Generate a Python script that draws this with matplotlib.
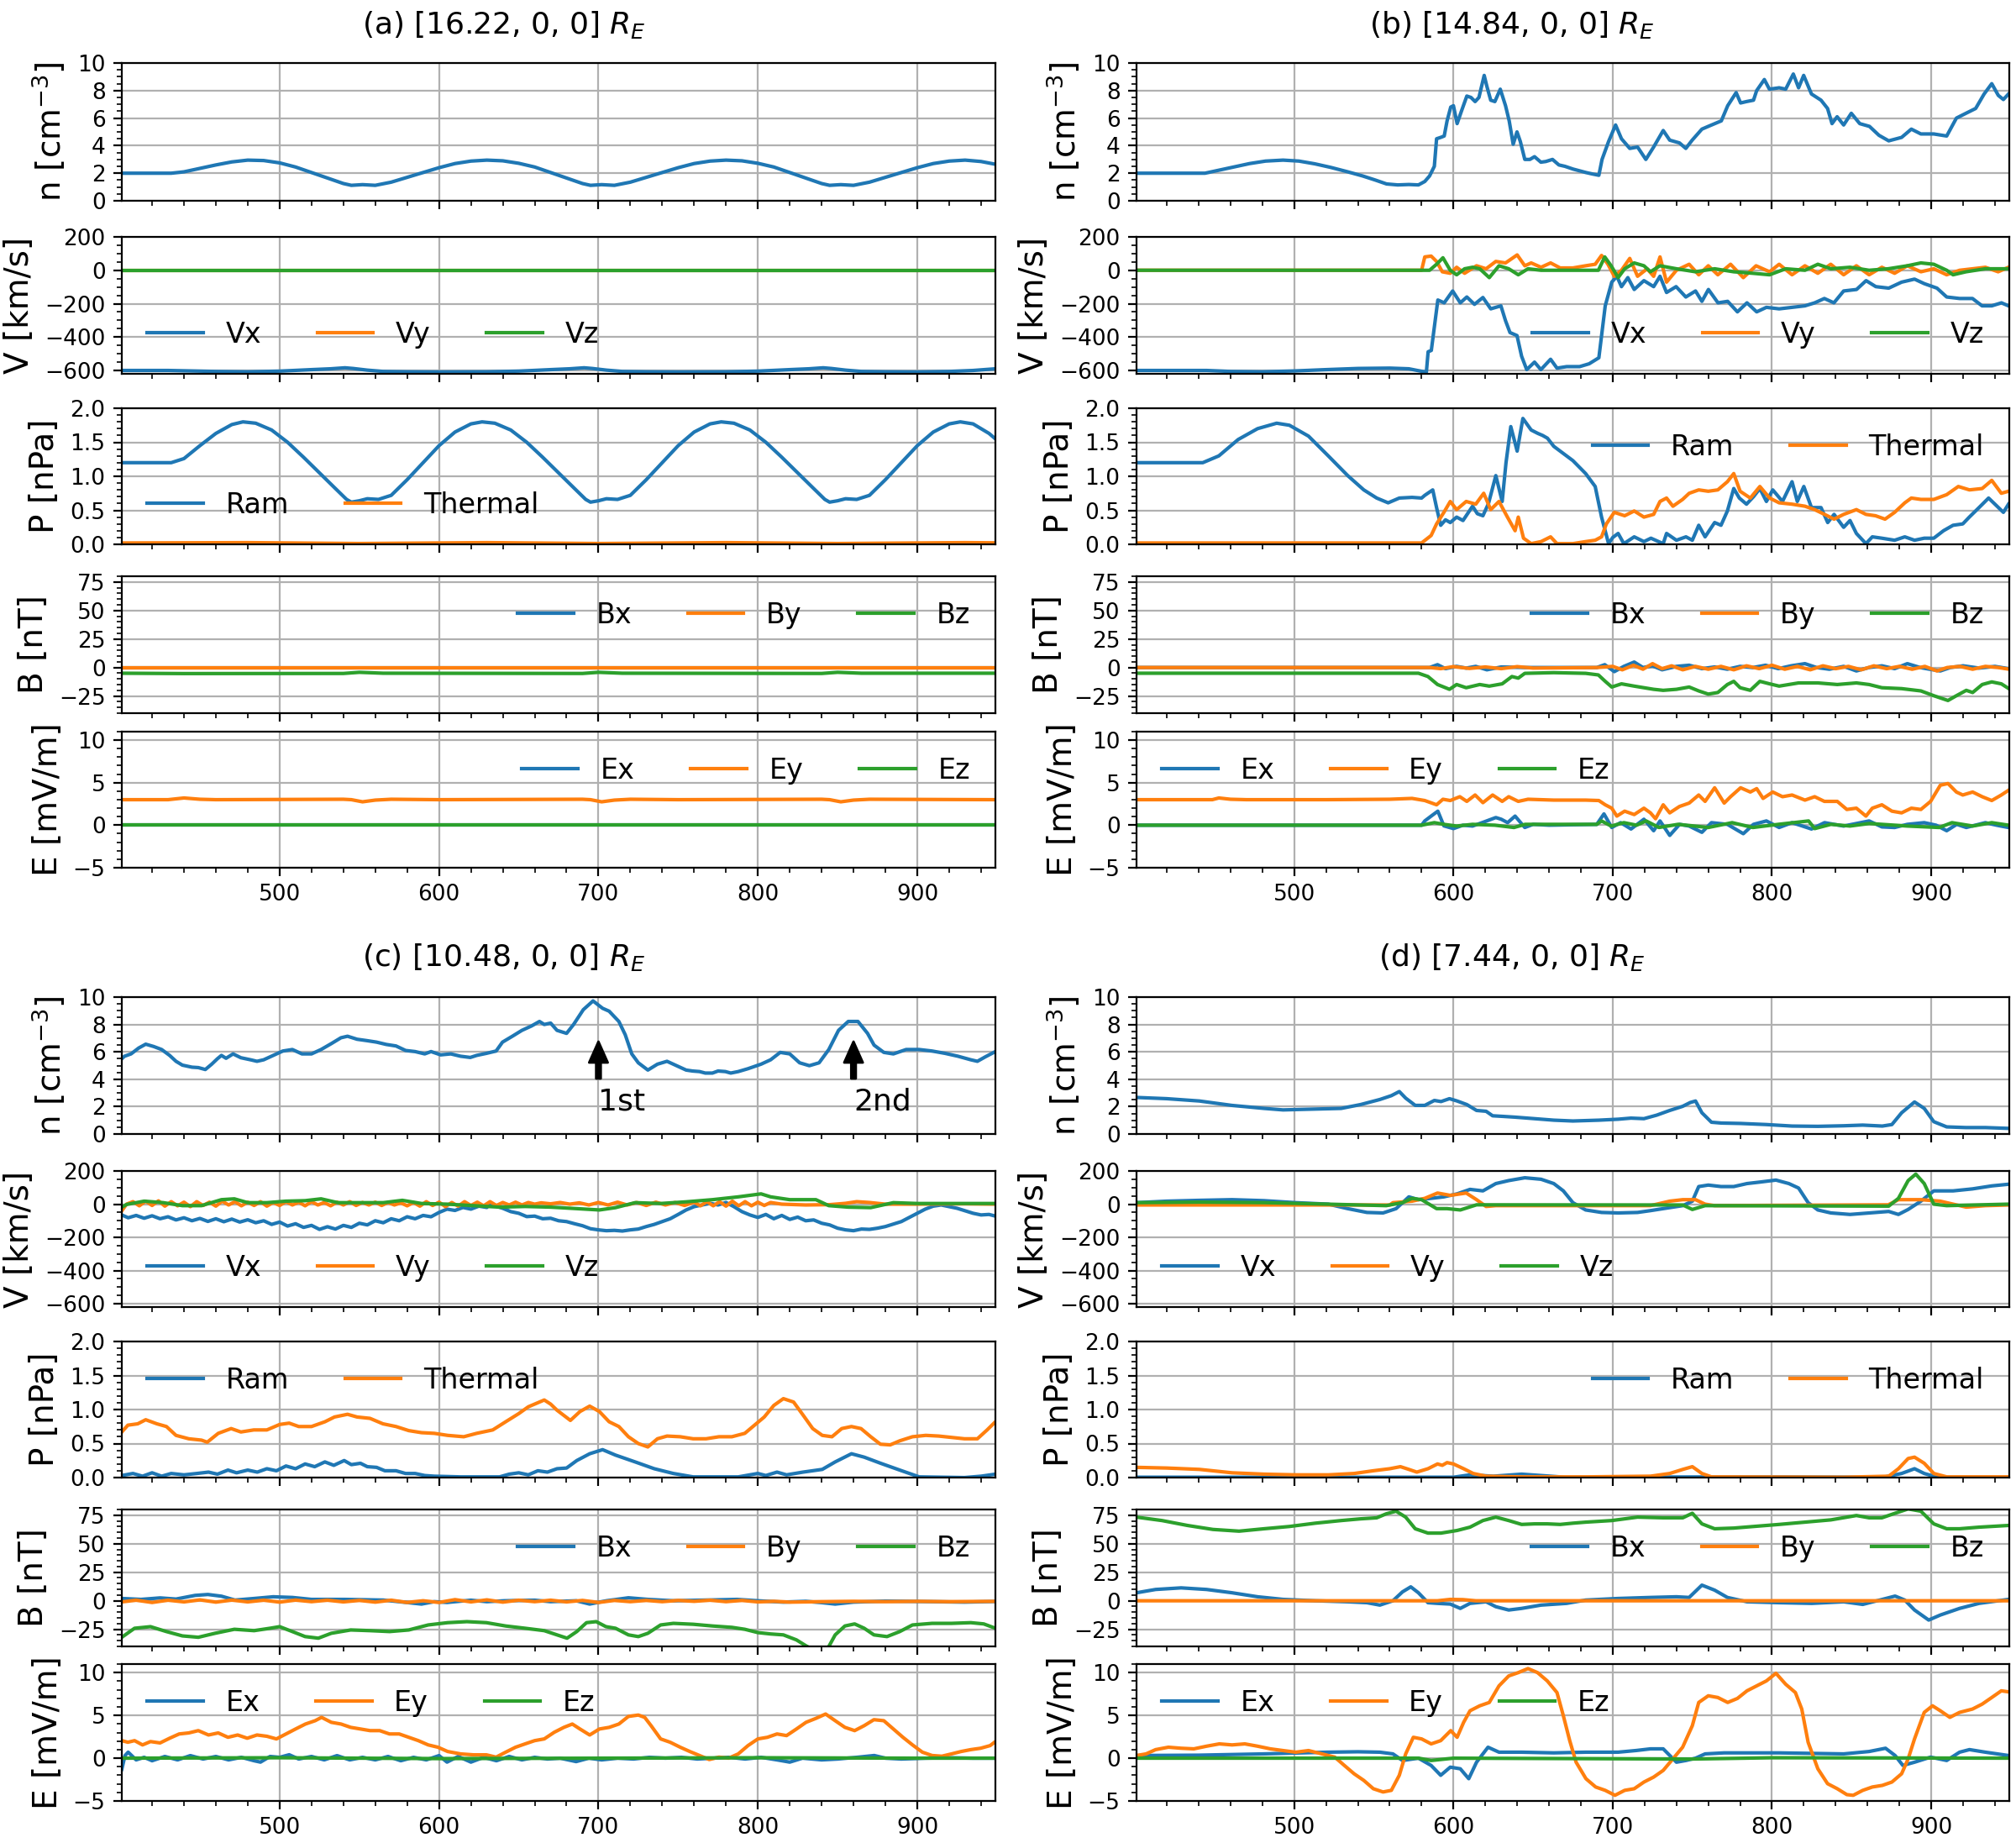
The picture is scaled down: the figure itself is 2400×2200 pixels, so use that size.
import matplotlib
matplotlib.use('Agg')
import matplotlib.pyplot as plt
from matplotlib.ticker import AutoMinorLocator

# ---------------- DATA ----------------
titles = ["(a) [16.22, 0, 0] $R_E$", "(b) [14.84, 0, 0] $R_E$",
          "(c) [10.48, 0, 0] $R_E$", "(d) [7.44, 0, 0] $R_E$"]
ylabels = ["n [cm$^{-3}$]", "V [km/s]", "P [nPa]", "B [nT]", "E [mV/m]"]
v_labels = ["Vx", "Vy", "Vz"]
p_labels = ["Ram", "Thermal"]
b_labels = ["Bx", "By", "Bz"]
e_labels = ["Ex", "Ey", "Ez"]
ylims = [(0, 10), (-620, 200), (0, 2), (-40, 80), (-5, 11)]
yticks = [[0, 2, 4, 6, 8, 10], [-600, -400, -200, 0, 200], [0.0, 0.5, 1.0, 1.5, 2.0],
          [-25, 0, 25, 50, 75], [-5, 0, 5, 10]]
xlim = (401, 949)
xticks = [500, 600, 700, 800, 900]
arrow_x = [700, 860]
arrow_text = ["1st", "2nd"]

# ---- panel (a) ----
a_n = [(401,2.0),(420,2.0),(432,2.0),(440,2.1),(450,2.35),(460,2.6),(470,2.82),(480,2.95),(490,2.92),
       (500,2.75),(510,2.45),(520,2.05),(530,1.65),(540,1.25),(545,1.12),(552,1.17),(560,1.12),(570,1.35),
       (580,1.7),(590,2.05),(600,2.4),(610,2.7),(620,2.88),(630,2.95),(640,2.9),(650,2.72),(660,2.45),
       (670,2.05),(680,1.65),(690,1.25),(695,1.12),(702,1.17),(710,1.12),(720,1.35),(730,1.7),(740,2.05),
       (750,2.4),(760,2.7),(770,2.88),(780,2.95),(790,2.9),(800,2.72),(810,2.45),(820,2.05),(830,1.65),
       (840,1.25),(845,1.12),(852,1.17),(860,1.12),(870,1.35),(880,1.7),(890,2.05),(900,2.4),(910,2.7),
       (920,2.88),(930,2.95),(940,2.85),(949,2.65)]
a_vx = [(401,-600),(430,-600),(440,-602),(460,-606),(480,-608),(500,-604),(520,-595),(532,-590),(541,-584),
        (546,-588),(555,-598),(565,-606),(580,-608),(600,-609),(630,-608),(650,-604),(670,-595),(682,-590),
        (691,-584),(696,-588),(705,-598),(715,-606),(730,-608),(750,-609),(780,-608),(800,-604),(820,-595),
        (832,-590),(841,-584),(846,-588),(855,-598),(865,-606),(880,-608),(900,-609),(920,-606),(935,-600),
        (949,-590)]
a_vy = [(401,0),(949,0)]
a_vz = [(401,0),(949,0)]
a_ram = [(401,1.2),(420,1.2),(432,1.2),(440,1.26),(450,1.45),(460,1.63),(470,1.76),(477,1.8),(485,1.78),
         (495,1.68),(505,1.5),(515,1.28),(525,1.05),(535,0.82),(542,0.66),(545,0.62),(550,0.64),(555,0.67),
         (562,0.66),(570,0.72),(580,0.95),(590,1.2),(600,1.45),(610,1.65),(620,1.77),(627,1.8),(635,1.78),
         (645,1.68),(655,1.5),(665,1.28),(675,1.05),(685,0.82),(692,0.66),(695,0.62),(700,0.64),(705,0.67),
         (712,0.66),(720,0.72),(730,0.95),(740,1.2),(750,1.45),(760,1.65),(770,1.77),(777,1.8),(785,1.78),
         (795,1.68),(805,1.5),(815,1.28),(825,1.05),(835,0.82),(842,0.66),(845,0.62),(850,0.64),(855,0.67),
         (862,0.66),(870,0.72),(880,0.95),(890,1.2),(900,1.45),(910,1.65),(920,1.77),(927,1.8),(935,1.77),
         (945,1.63),(949,1.55)]
a_th = [(401,0.02),(480,0.025),(550,0.012),(630,0.025),(700,0.012),(780,0.025),(850,0.012),(930,0.025),(949,0.022)]
a_bx = [(401,0),(949,0)]
a_by = [(401,0),(949,0)]
a_bz = [(401,-5),(440,-5.3),(540,-5.2),(550,-4.2),(565,-5),(690,-5.2),(700,-4.2),(715,-5),(840,-5.2),
        (850,-4.2),(865,-5),(949,-5)]
a_ex = [(401,0),(949,0)]
a_ey = [(401,3.0),(430,3.0),(440,3.2),(450,3.05),(460,3.0),(540,3.05),(545,3.0),(552,2.75),(560,2.95),
        (570,3.05),(600,3.0),(690,3.05),(695,3.0),(702,2.75),(710,2.95),(720,3.05),(750,3.0),(840,3.05),
        (845,3.0),(852,2.75),(860,2.95),(870,3.05),(949,3.0)]
a_ez = [(401,0),(949,0)]

# ---- panel (b) ----
b_n = [(401,2.0),(444,2.0),(452,2.2),(462,2.45),(472,2.7),(482,2.88),(493,2.95),(503,2.88),(513,2.68),
       (523,2.42),(533,2.12),(543,1.8),(551,1.5),(558,1.22),(565,1.15),(572,1.18),(578,1.15),(582,1.4),
       (585,1.8),(588,2.5),(589.4,4.5),(592,4.6),(594.2,4.7),(596,5.8),(598.3,6.8),(600,6.9),(602.3,5.6),
       (605,6.5),(608.4,7.6),(611,7.5),(613.6,7.2),(616,7.5),(619.3,9.1),(621,8.3),(623.4,7.3),(626,7.2),
       (629.4,8.1),(632.7,6.9),(635,5.8),(637.5,4.1),(639.9,5.0),(642,4.3),(644.8,3.0),(648,3.0),(650.9,3.2),
       (654.9,2.8),(658,2.85),(662.2,3.0),(666.2,2.6),(670,2.5),(675.1,2.3),(683.2,2.05),(687,1.95),
       (691.3,1.85),(693.3,3.0),(697.4,4.3),(701.8,5.5),(705.5,4.5),(710.7,3.8),(715.6,3.9),(720.8,3.0),
       (725.7,3.9),(731.7,5.1),(735.8,4.4),(741.9,4.2),(745.9,3.8),(749.9,4.4),(756,5.2),(760,5.4),
       (764.1,5.6),(768.2,5.8),(772.2,6.9),(777.5,7.85),(780.3,7.1),(784,7.2),(788.4,7.3),(790.4,8.0),
       (795.2,8.8),(798.4,8.1),(804.5,8.2),(808.6,8.1),(813.4,9.2),(816.7,8.2),(819.9,9.1),(824.8,7.75),
       (830.8,7.3),(834.9,6.7),(837.7,5.6),(840.9,6.1),(845,5.5),(849.8,6.35),(855.1,5.6),(861.2,5.4),
       (867.2,4.75),(873.3,4.35),(881.4,4.6),(887.5,5.2),(893.5,4.85),(901.6,4.85),(909.7,4.7),(915.8,6.0),
       (921.8,6.35),(927.9,6.7),(933.2,7.75),(938,8.5),(942.1,7.65),(945.3,7.35),(948.5,7.75)]
b_vx = [(401,-600),(445,-600),(460,-606),(480,-608),(500,-603),(520,-595),(540,-588),(560,-586),(572,-590),
        (580,-605),(583,-610),(584.1,-488),(586.1,-480),(590.2,-178),(594.2,-195),(599.5,-124),(604.3,-195),
        (608.4,-160),(613.2,-204),(618.5,-163),(623.4,-231),(629.8,-213),(632.7,-302),(635.5,-373),
        (639.9,-391),(642.8,-515),(646,-595),(650.9,-550),(654.9,-595),(661,-533),(665,-586),(671.1,-577),
        (679.2,-577),(685.2,-560),(691.3,-524),(695.3,-213),(699.4,-71),(702.6,-36),(705.5,-98),(709.5,-44),
        (713.5,-115),(719.6,-62),(725.7,-98),(729.7,-36),(733.8,-133),(739.8,-98),(745.9,-160),(752,-124),
        (756,-186),(760.1,-115),(766.1,-195),(772.2,-186),(778.3,-249),(784.3,-195),(790.4,-249),(796.5,-222),
        (804.5,-231),(812.6,-222),(820.7,-213),(826.8,-195),(832.9,-169),(838.9,-195),(845,-124),(853.1,-115),
        (859.1,-62),(865.2,-98),(873.3,-107),(881.4,-71),(889.5,-53),(895.6,-80),(903.6,-107),(909.7,-160),
        (917.8,-169),(925.9,-169),(931.9,-213),(938,-213),(944.1,-195),(948.5,-213)]
b_vy = [(401,0),(580,0),(582,80),(586,85),(589.4,53),(593,-9),(598,-18),(602,18),(607,-18),(614.5,27),
        (620.5,9),(626.6,53),(632.7,44),(640,92),(644.8,27),(648.8,44),(655,18),(661,44),(667,14),(675,14),
        (683,27),(689,36),(693,89),(697,36),(701,-36),(705.5,0),(710.7,71),(715.6,-36),(721.6,9),(725.7,-36),
        (729.7,80),(733.8,-71),(740,0),(748,36),(754,-27),(760,27),(766,-27),(774,36),(782,-44),(790,27),
        (798.5,-9),(804.5,36),(812.6,-27),(820.7,27),(828.8,-18),(836.9,36),(845,-27),(853,27),(861,-27),
        (869,18),(877,-18),(885,27),(893.5,-9),(901.6,9),(909.7,-27),(917.8,0),(926,9),(934,18),(942,-9),
        (948.5,18)]
b_vz = [(401,0),(585,0),(589.4,36),(593.4,75),(598,0),(602,-27),(607,9),(612,18),(616.5,9),(622.5,-44),
        (628.6,27),(634.7,9),(640.7,-27),(646.8,9),(655,0),(691,0),(695,80),(699,27),(703.4,-44),(707.5,9),
        (713.5,44),(719.6,27),(723.7,-9),(729.7,27),(740,9),(752,-9),(764,9),(776,-9),(788,-18),(798.5,-27),
        (808.6,9),(820.7,0),(828.8,36),(837,9),(849,18),(861,0),(873,9),(885,27),(893.5,44),(901.6,36),
        (909.7,0),(913.7,-27),(921.8,-9),(934,9),(948.5,9)]
b_ram = [(401,1.2),(442.6,1.2),(452.7,1.3),(464.8,1.54),(477,1.7),(489,1.78),(497,1.75),(509,1.59),
         (521.4,1.3),(533.6,1.01),(543.7,0.8),(551.8,0.68),(559,0.61),(566,0.68),(574,0.69),(580,0.68),
         (582,0.72),(587,0.8),(589.4,0.54),(592,0.28),(595,0.36),(598,0.32),(602,0.40),(606,0.35),(612,0.56),
         (615,0.45),(618.5,0.42),(622,0.6),(626.6,1.01),(630.6,0.63),(633,1.2),(636,1.73),(640,1.37),
         (643.6,1.85),(648.8,1.68),(653,1.63),(656,1.6),(659,1.56),(663,1.44),(667,1.37),(675,1.23),
         (683,1.04),(689,0.85),(693,0.40),(697.4,0.01),(700,0.1),(703.4,0.16),(707,0.01),(713.5,0.11),
         (719.6,0.04),(724,0.09),(731.7,0.01),(733.8,0.16),(740,0.06),(746,0.11),(750,0.06),(754,0.28),
         (758,0.11),(764,0.32),(768,0.28),(772,0.49),(776,0.82),(779.5,0.68),(784,0.59),(788.4,0.70),
         (792.4,0.82),(796.5,0.63),(800.5,0.80),(806.6,0.63),(812.6,0.92),(815.9,0.63),(820,0.85),(824.8,0.54),
         (830.8,0.54),(835,0.32),(839,0.44),(845,0.25),(849,0.35),(853,0.16),(859,0.01),(863,0.11),(869,0.09),
         (877,0.06),(883.4,0.11),(889.5,0.06),(895.6,0.09),(901.6,0.09),(907.7,0.20),(913.7,0.28),(919.8,0.30),
         (923.9,0.40),(930,0.54),(936,0.68),(940,0.59),(945.3,0.47),(948.5,0.59)]
b_th = [(401,0.02),(580,0.02),(586,0.13),(589.4,0.30),(594,0.47),(598,0.63),(602,0.51),(608,0.63),(614,0.59),
        (619,0.75),(623.4,0.51),(628.6,0.63),(633.9,0.40),(638.7,0.20),(640.7,0.40),(644,0.09),(648.8,0.01),
        (655,0.04),(661,0.11),(665,0.01),(675,0.01),(683,0.04),(689,0.06),(693,0.11),(696,0.30),(701,0.47),
        (707.5,0.42),(713.5,0.49),(719.6,0.40),(725.7,0.44),(729.7,0.63),(733.8,0.68),(737.8,0.56),
        (743.9,0.66),(748,0.75),(754,0.80),(760,0.78),(766,0.80),(772,0.92),(776,1.04),(780,0.78),(786.4,0.68),
        (792.4,0.85),(798.5,0.68),(804.5,0.61),(812.6,0.59),(820.7,0.56),(826.8,0.51),(833,0.44),(839,0.37),
        (845,0.44),(853,0.51),(859,0.44),(865,0.42),(871,0.37),(877,0.47),(883.4,0.61),(887.5,0.68),
        (893.5,0.66),(901.6,0.66),(909.7,0.73),(917,0.85),(924,0.80),(932,0.82),(938,0.94),(944,0.75),
        (948.5,0.78)]
b_bx = [(401,0),(585,0),(590,2.5),(595,-1),(602,1),(608,-0.5),(614,1),(621,-2),(630,0.5),(645,0),(690,0),
        (695,2.5),(701,-3.6),(707,1),(713.5,4.8),(719,0),(725,1.5),(731,-2),(740,1),(748,2),(756,-1),
        (764,0.5),(772,-1.5),(780,1),(788,0),(796,2),(804,-1),(812,1.5),(820.7,3.4),(828,0),(836,-1.5),
        (845,1),(853,-3),(861,0),(869,1.5),(877,-1),(885,3.4),(893,0),(899,-1.5),(905.7,-3),(912,0),
        (920,1.5),(930,-0.5),(940,1),(948.5,-1)]
b_by = [(401,0),(585,0),(592,-1),(600,0.8),(610,-0.8),(620,0.5),(630,-1),(640,0.8),(650,-0.5),(690,0),
        (700,1),(706,-2),(713,2),(719,-1.5),(725,3.4),(731,-1),(737,1.5),(744,-2),(752,1),(760,-1.5),
        (768,1),(776,-2),(784,1.5),(792,-1),(800,2),(808,-1.5),(816,1),(824,-2),(832,1.5),(840,-1),(848,1),
        (856,-2),(864,1.5),(872,-1),(880,1),(888,-1.5),(896,1),(903.6,-3),(910,0),(918,1),(926,-1.5),
        (934,1),(942,0),(948.5,-1.4)]
b_bz = [(401,-5),(578,-5),(584,-7.9),(590,-14.9),(597.5,-19.1),(602,-14.9),(608,-17.7),(616.5,-14.9),
        (622.5,-16.3),(630.6,-14.3),(636.7,-7.9),(640.7,-9.3),(644.8,-5.1),(663,-4.5),(683,-5.1),(691,-6.5),
        (695.3,-12.1),(699.4,-17.1),(705.5,-14.3),(713.5,-16.3),(719.6,-17.7),(725.7,-19.1),(731.7,-20),
        (740,-19.1),(748,-17.1),(754,-20.5),(760,-23.3),(766,-21.9),(772,-14.9),(776,-12.1),(780,-17.7),
        (786.4,-20),(792.4,-12.1),(798.5,-14.3),(804.5,-16.3),(816.7,-13.5),(828.8,-13.5),(841,-14.9),
        (853,-13.5),(861,-14.9),(869,-17.7),(881.4,-18.5),(893.5,-20.5),(901.6,-24.7),(910.5,-28.9),
        (915.8,-24.7),(922,-20),(926,-21.9),(932,-14.9),(938,-12.6),(944,-14.3),(948.5,-18.3)]
b_ex = [(401,0),(580,0),(582,0.5),(586,1.07),(590.2,1.65),(594,-0.08),(600,-0.4),(606,0),(612,-0.1),
        (618,0.3),(626.6,0.9),(630,0.7),(634,0.3),(638.7,1.07),(644.8,-0.27),(650,0.1),(660,0),(690,0.1),
        (694.5,1.33),(699.4,-0.27),(705,0.3),(711.5,-0.45),(719.6,0.7),(725.7,-0.65),(729.7,0.5),
        (735.8,-1.2),(742,0.1),(748,-0.1),(756,-0.84),(762,0.3),(772,0.1),(782,-1.0),(788.4,0.1),(796.5,0.5),
        (804.5,-0.27),(812.6,0.3),(824.8,-0.45),(833,0.3),(845,-0.1),(853,0.2),(861,0.5),(869,-0.2),
        (877,-0.27),(885,0.1),(895.6,0.3),(903,0),(909.7,-0.65),(916,0.1),(922,-0.27),(934,0.3),(941,0),
        (948.5,-0.27)]
b_ey = [(401,3.0),(448.6,3.0),(452.7,3.2),(460,3.05),(470,3.0),(520,3.0),(560,3.05),(574,3.15),(582,2.9),
        (589.4,2.4),(593.4,3.05),(598,2.9),(604,3.35),(608.4,2.8),(613.6,3.55),(618.5,2.65),(624.6,3.55),
        (630.6,2.8),(634.7,3.35),(640.7,2.8),(646.8,3.05),(663,2.95),(683,2.95),(691.3,2.9),(695.3,2.4),
        (699.4,2.0),(702.6,1.07),(707.5,1.65),(713.5,1.25),(719.6,2.0),(723.7,1.45),(726.9,0.76),(731.7,2.4),
        (735.8,1.45),(741.9,2.2),(748,2.6),(754,3.55),(758,2.8),(764,4.4),(770,2.6),(774,3.35),(780.3,4.4),
        (786.4,3.9),(790.4,4.3),(794.4,3.15),(800.5,3.9),(806.6,3.35),(812.6,3.55),(820.7,2.95),(826.8,3.35),
        (832.9,2.8),(841,2.8),(847,1.85),(853,2.0),(859,1.07),(863,2.0),(869,2.4),(875.3,1.65),(881.4,1.45),
        (887.5,2.0),(893.5,1.85),(899.6,2.8),(905.7,4.7),(910.5,4.9),(915.8,3.9),(919.8,3.55),(926,3.9),
        (932,3.35),(938,2.9),(944,3.55),(948.5,4.1)]
b_ez = [(401,0),(580,0),(588,0.3),(594,0.1),(602,-0.1),(612,0.1),(626,0),(638,-0.27),(645,0.1),(690,0.1),
        (693,0.5),(699,-0.1),(707,0.3),(715,0),(721,0.5),(729,-0.27),(741,0.1),(760,-0.27),(775,0.3),
        (788,-0.27),(804,0.1),(823,0.5),(826.8,-0.4),(837,0.1),(849,-0.1),(861,0.2),(885,-0.1),(905,-0.27),
        (913,0.3),(926,-0.1),(938,0.3),(948.5,0)]

# ---- panel (c) ----
c_n = [(401,5.5),(402.7,5.68),(406.8,5.85),(411.6,6.28),(416,6.56),(421,6.39),(426,6.17),(431,5.74),
       (435,5.31),(439,5.03),(445,4.88),(449,4.85),(453.4,4.71),(457.4,5.1),(461,5.5),(463.5,5.74),
       (466.4,5.53),(470.8,5.85),(475.7,5.57),(481.8,5.42),(485.8,5.31),(490,5.42),(496,5.74),(502,6.06),
       (508,6.17),(514,5.85),(520,5.85),(526,6.17),(532.4,6.6),(538.5,7.03),(542.6,7.14),(548.6,6.92),
       (554.7,6.82),(560.8,6.71),(566.9,6.54),(573,6.43),(579,6.1),(585,6.02),(591,5.85),(595,6.02),
       (601,5.78),(607.4,5.85),(613.5,5.68),(619.6,5.59),(623.6,5.74),(629.7,5.89),(635.8,6.06),(639.8,6.71),
       (646,7.14),(652,7.57),(658,7.89),(663,8.22),(666,8.0),(670,8.1),(674,7.57),(680,7.35),(684.4,8.0),
       (690.5,9.08),(696.6,9.72),(702.6,9.18),(706.7,8.97),(712.8,8.22),(716.8,7.25),(720.9,5.85),(725,5.2),
       (731,4.67),(737,5.1),(743,5.31),(749,4.99),(755,4.67),(759,4.6),(763.4,4.56),(767,4.45),(771.5,4.45),
       (775,4.6),(779.6,4.56),(783,4.45),(787.7,4.56),(793.8,4.77),(802,5.1),(808,5.42),(814,5.96),(820,5.85),
       (826.2,5.2),(832.3,4.99),(838.4,5.2),(844.5,6.17),(850.6,7.57),(856.7,8.22),(862.8,8.22),(868.8,7.35),
       (872.9,6.49),(879,5.96),(885,5.85),(893,6.17),(901.2,6.17),(909.3,6.06),(917.4,5.89),(925.5,5.68),
       (933.6,5.42),(937.7,5.31),(942.6,5.63),(949,6.02)]
c_vx = [(401,-65),(405,-82),(410,-68),(415,-85),(420,-70),(425,-88),(430,-76),(435,-95),(440,-82),(445,-100),
        (450,-86),(455,-104),(460,-88),(465,-106),(470,-90),(475,-108),(480,-94),(485,-112),(490,-100),
        (495,-122),(500,-108),(505,-132),(510,-118),(515,-140),(520,-128),(525,-152),(530,-136),(535,-150),
        (540,-128),(545,-140),(550,-115),(555,-125),(560,-100),(565,-112),(570,-88),(575,-100),(580,-76),
        (585,-88),(590,-68),(595,-76),(600,-50),(605,-30),(610,-38),(615,-20),(620,-30),(625,-12),(630,-20),
        (632,8),(635,-10),(640,-25),(645,-45),(650,-55),(655,-75),(660,-72),(665,-88),(670,-85),(675,-100),
        (680,-105),(685,-118),(690,-130),(695,-148),(700,-155),(705,-160),(710,-158),(715,-162),(720,-155),
        (725,-150),(730,-135),(735,-122),(740,-105),(745,-88),(750,-62),(755,-35),(760,-15),(765,-5),(770,5),
        (775,-5),(780,10),(785,-15),(790,-45),(795,-65),(800,-80),(805,-62),(810,-88),(815,-68),(820,-92),
        (825,-78),(830,-100),(835,-95),(840,-115),(845,-125),(850,-145),(855,-155),(860,-160),(865,-150),
        (870,-152),(875,-145),(880,-135),(885,-120),(890,-105),(895,-80),(900,-55),(905,-30),(910,-12),
        (915,-5),(920,-15),(925,-25),(930,-40),(935,-55),(940,-65),(945,-62),(949,-72)]
c_vy = [(401,-40),(404,0),(408,15),(412,-10),(416,18),(420,-8),(424,20),(428,-12),(432,15),(436,-10),
        (440,12),(444,-15),(448,15),(452,-8),(456,12),(460,-12),(464,18),(468,-5),(472,15),(476,-10),
        (480,12),(484,-8),(488,15),(492,-12),(496,10),(500,-8),(504,15),(508,-5),(512,12),(516,-10),
        (520,15),(524,-5),(528,10),(532,-10),(536,12),(540,-5),(544,15),(548,-8),(552,10),(556,-5),(560,12),
        (564,-8),(568,10),(572,-5),(576,8),(580,-10),(584,10),(588,-12),(592,15),(596,-8),(600,12),(604,-15),
        (608,10),(612,-12),(616,15),(620,-8),(624,12),(628,-10),(632,15),(636,-8),(640,10),(644,-5),(648,12),
        (652,-5),(656,10),(660,0),(664,8),(670,2),(676,10),(682,0),(688,8),(694,-5),(700,10),(706,-5),
        (712,12),(718,-5),(724,10),(730,-8),(736,12),(742,-5),(748,10),(754,-8),(760,12),(764,-10),(768,15),
        (772,-10),(776,15),(780,-12),(784,18),(788,-10),(792,15),(796,-10),(800,12),(804,-8),(808,10),
        (815,0),(830,-5),(845,-3),(855,5),(862,15),(870,10),(880,0),(900,0),(930,2),(949,0)]
c_vz = [(401,-18),(404,-2),(415,18),(427,9),(439,-9),(451,-9),(463.5,27),(471.6,32),(480,9),(492,9),
        (504,18),(516,21),(526,32),(536.5,9),(552.7,9),(565,9),(577,23),(589,4),(605,0),(621.6,-9),(638,-18),
        (654,-14),(670,-18),(686.4,-27),(700.6,-35),(710.7,-21),(723,9),(739,4),(755,14),(771.5,27),
        (787.7,44),(802,62),(808,44),(820,27),(836.4,27),(844.5,-9),(856.6,-18),(870.8,-21),(885,9),(900,4),
        (920,4),(949,4)]
c_ram = [(401,0.03),(408,0.06),(414,0.02),(420,0.07),(426,0.02),(432,0.06),(440,0.04),(448,0.06),
         (455.4,0.08),(461,0.05),(467.6,0.11),(473,0.07),(480,0.11),(486,0.08),(492,0.13),(498,0.10),
         (504,0.17),(510,0.13),(516,0.20),(522,0.16),(528.4,0.23),(534,0.18),(540.5,0.25),(545,0.19),
         (550.7,0.21),(555,0.16),(560.8,0.15),(566,0.10),(573,0.10),(579,0.06),(585,0.06),(591,0.03),
         (597,0.02),(613.5,0.01),(638,0.01),(644,0.05),(650,0.07),(656,0.04),(662,0.10),(668,0.08),
         (674,0.13),(680,0.14),(686.4,0.25),(694.5,0.35),(702.6,0.41),(710.7,0.33),(723,0.23),(735,0.13),
         (747,0.06),(759.4,0.01),(787.7,0.01),(795,0.04),(800,0.06),(805,0.03),(812,0.08),(818,0.04),
         (828.3,0.08),(840.4,0.12),(848.5,0.23),(858.7,0.35),(866.7,0.30),(877,0.21),(889,0.11),(901.2,0.01),
         (929.6,0.0),(940,0.02),(949,0.05)]
c_th = [(401,0.67),(404.8,0.77),(411,0.79),(416,0.85),(423,0.79),(429,0.75),(435,0.62),(443,0.57),
        (451,0.55),(454.6,0.52),(461.5,0.65),(469.6,0.72),(475.7,0.67),(483.8,0.70),(492,0.70),(500,0.78),
        (506,0.80),(512,0.75),(520,0.75),(528.4,0.82),(534.4,0.89),(542.6,0.93),(548.6,0.89),(556.7,0.87),
        (564.8,0.79),(573,0.75),(581,0.69),(589,0.66),(597,0.65),(605.4,0.62),(615.5,0.60),(623.6,0.65),
        (633.7,0.70),(641.8,0.82),(650,0.94),(656,1.04),(662,1.10),(666,1.14),(670,1.08),(674,0.99),
        (682.4,0.84),(688.4,0.97),(694.5,1.05),(700.6,0.97),(706.7,0.82),(712.8,0.75),(718.8,0.60),(725,0.50),
        (731,0.45),(737,0.57),(743,0.61),(751.3,0.60),(759.4,0.57),(767.5,0.57),(775.6,0.60),(783.7,0.60),
        (791.8,0.65),(797.9,0.77),(804,0.89),(810,1.06),(816,1.16),(822.4,1.11),(828.3,0.92),(834.4,0.72),
        (840.4,0.62),(846.5,0.60),(852.6,0.72),(858.7,0.75),(864.7,0.72),(870.8,0.60),(876.9,0.49),(883,0.48),
        (889,0.54),(897,0.60),(905.3,0.62),(913.4,0.61),(921.5,0.59),(929.6,0.57),(937.7,0.57),(943.8,0.70),
        (949,0.82)]
c_bx = [(401,2),(413,1.2),(425,2.5),(435,1.5),(447,4.7),(455,5.5),(463.5,4),(472,0.6),(484,2),(496,3.5),
        (508,2.9),(520,1.2),(541,1.2),(565,0.6),(581,-1.7),(589,-2.9),(597,-0.8),(605,-1.5),(620,0.5),
        (630,-0.8),(641,0),(660,0.5),(670,-0.8),(686,0),(694.5,-2.9),(705,0),(718.8,2.6),(731,1.2),(747,0),
        (767,0.6),(787,1.2),(800,0),(816,-1.2),(830,-0.5),(840.4,-1.7),(848.5,-2.9),(860,-1.2),(880,-0.3),
        (900,-0.6),(929.6,-1.2),(949,-0.6)]
c_by = [(401,-1),(410,0.5),(420,-1.5),(430,0.5),(440,-1),(450,0.8),(460,-1.2),(470,0.6),(480,-1),(490,0.5),
        (500,-1.2),(510,0.6),(520,-0.8),(530,0.5),(540,-1),(550,0.3),(560,-1.2),(570,0.5),(580,-1.5),(590,0),
        (600,-1.5),(610,1),(620,-1),(630,0.8),(640,-1.2),(650,0.5),(660,-0.8),(670,0.5),(680,-1),(690,0.3),
        (700,-1.5),(710,0.3),(720,-0.8),(730,0.3),(740,-0.8),(750,0.3),(760,-0.5),(770,0.5),(780,-0.8),
        (790,0.3),(800,-1),(810,-0.5),(820,-1.2),(840,-0.8),(860,-0.5),(880,-0.8),(900,-0.5),(920,-0.8),
        (949,-0.5)]
c_bz = [(401,-32),(409,-24.1),(419,-22.7),(429,-27),(439,-30.8),(449,-32),(459.5,-28.5),(471.6,-25),
        (484,-26.2),(494,-24.1),(500,-22.7),(508,-27),(516,-31.4),(524.3,-32.8),(532.4,-28.5),(544.6,-25.6),
        (556.7,-26.2),(569,-27),(581,-25.6),(593.2,-21.2),(605.4,-19.2),(617.5,-18.3),(629.7,-19.2),
        (641.8,-22.1),(654,-24.1),(666,-26.2),(674,-29.9),(680.3,-32.8),(686.4,-27),(692.5,-19.2),
        (698.6,-18.3),(704.7,-22.7),(710.7,-24.1),(718.8,-29.9),(725,-31.4),(731,-28.5),(739,-21.2),
        (747,-19.8),(759.4,-20.6),(771.5,-22.1),(783.7,-23.3),(791.8,-25),(800,-27.9),(808,-29.1),
        (816,-29.9),(824.2,-34.3),(830.2,-39.5),(835,-43),(840,-44),(844.5,-40.1),(848.5,-29.9),
        (854.6,-22.1),(860.7,-20.3),(866.7,-24.1),(872.8,-29.9),(881,-31.4),(889,-27),(897,-21.2),
        (909.3,-19.8),(921.5,-19.8),(933.6,-19.2),(941.7,-20.3),(949,-24.1)]
c_ex = [(401,-1.3),(403,0.3),(405,0.7),(410,-0.2),(415,0.1),(420,-0.3),(428,0.2),(436,-0.2),(444,0.3),
        (452,-0.1),(460,0.2),(468,-0.2),(476,0.1),(484,-0.3),(488,-0.46),(494,0.2),(500,0.1),(506,0.4),
        (512,-0.1),(520,0.2),(528,-0.2),(536,0.3),(544,-0.2),(552,0.1),(560,-0.2),(568,0.2),(576,-0.3),
        (584,0.1),(592,-0.2),(600,0.3),(605,-0.46),(612,0.2),(620,-0.46),(628,0.1),(636,-0.3),(644,0.2),
        (652,-0.2),(660,0.1),(668,-0.1),(676,0),(686,-0.4),(694,0),(702,-0.2),(712,0),(722,-0.1),(732,0.1),
        (742,0),(752,0.1),(762,-0.1),(772,0),(782,0.1),(792,-0.1),(802,0.1),(812,-0.2),(820,-0.46),(828,0),
        (840,-0.2),(850,-0.1),(862,0.1),(873,0.31),(880,0),(890,-0.1),(905,0),(920,0.05),(935,0),(949,0)]
c_ey = [(401,2.05),(404.8,1.86),(409,2.05),(414,1.55),(419,1.94),(425,1.78),(431,2.33),(437,2.83),
        (443,2.95),(449,3.22),(455.4,2.71),(461.5,2.95),(467.6,2.44),(473.7,2.71),(479.7,2.33),(485.8,2.71),
        (492,2.56),(498,2.25),(504,2.83),(510,3.41),(516.2,3.99),(522.3,4.38),(526.3,4.77),(532.4,4.19),
        (538.5,3.99),(544.6,3.6),(550.7,3.41),(556.7,3.22),(562.8,3.22),(568.9,2.83),(575,2.83),(581,2.44),
        (587,2.05),(593.2,1.55),(599.3,1.28),(605.4,0.78),(613.5,0.50),(621.6,0.39),(629.7,0.39),
        (635.8,0.12),(641.8,0.70),(648,1.28),(654,1.67),(660,2.05),(666,2.25),(672.2,3.02),(678.3,3.6),
        (683.6,3.99),(688.4,3.41),(694.5,2.71),(700.6,3.41),(706.7,3.6),(712.8,3.99),(718.8,4.88),(725,5.04),
        (729,4.77),(733,3.8),(739,2.25),(745,1.86),(751.3,1.28),(757.3,0.78),(763.4,0.31),(769.5,-0.16),
        (775.6,0.12),(781.7,0.0),(787.7,0.5),(793.8,1.47),(800,2.25),(806,2.44),(812,2.83),(818,2.64),
        (824.2,3.41),(830.2,4.19),(836.4,4.65),(842.5,5.16),(848.5,4.38),(854.6,3.6),(860.7,3.22),(866.7,3.8),
        (872.8,4.5),(879,4.38),(885,3.41),(891,2.44),(897,1.55),(903.2,0.70),(909.3,0.31),(915.4,0.23),
        (921.5,0.5),(927.5,0.78),(933.6,1.0),(939.7,1.16),(945.7,1.47),(949,1.94)]
c_ez = [(401,0),(500,0.05),(600,-0.05),(700,0),(800,0.05),(900,0),(949,0)]

# ---- panel (d) ----
d_n = [(401,2.67),(420,2.58),(440.5,2.41),(460.8,2.09),(481,1.87),(493,1.76),(509.3,1.81),(529.5,1.87),
       (541.7,2.15),(553.8,2.52),(561,2.8),(566,3.1),(570,2.62),(576,2.09),(582,2.09),(588,2.45),(592.2,2.37),
       (597.5,2.58),(602.3,2.41),(608.4,2.15),(614.5,1.72),(620.5,1.66),(624.6,1.33),(630.6,1.29),
       (638.7,1.23),(650.9,1.12),(663,1.01),(675,0.95),(691.3,1.01),(703.4,1.08),(711.5,1.16),(719.6,1.12),
       (727.7,1.38),(735.8,1.72),(743.9,2.02),(748.7,2.3),(752,2.41),(756,1.55),(762,0.86),(768.2,0.80),
       (780.3,0.77),(796.5,0.69),(812.6,0.58),(828.8,0.56),(845,0.60),(857,0.65),(869.3,0.58),(875.3,0.69),
       (881.4,1.55),(889.5,2.34),(895.6,1.87),(901.6,0.90),(909.7,0.52),(921.8,0.47),(934,0.47),(948.5,0.41)]
d_vx = [(401,9),(420,18),(440.5,23),(461,27),(481,21),(501,9),(521.4,0),(533.6,-27),(545.7,-50),
        (555.8,-53),(564,-27),(572,44),(578,27),(586,35),(594,44),(602.3,62),(610.4,89),(618.5,80),
        (626.6,124),(634.7,142),(644.8,159),(655,150),(663,124),(669,80),(675,9),(683,-35),(693,-50),
        (703.4,-53),(715.6,-50),(723.7,-39),(731.7,-27),(744,-9),(750,18),(754,106),(760,115),(768,106),
        (776,106),(784.3,124),(792.4,133),(802.5,145),(810.6,124),(816.7,97),(822.7,9),(828.8,-35),(837,-53),
        (849,-62),(861.2,-53),(873.3,-44),(879.4,-62),(885.5,-32),(893.5,18),(901.6,80),(913.7,80),
        (925.9,92),(938,110),(948.5,120)]
d_vy = [(401,-5),(560,-5),(562,9),(574,18),(582,35),(590,67),(598,53),(608,67),(614.5,27),(620.5,-14),
        (626.6,-9),(723.7,-9),(735.8,18),(744,27),(752,27),(758,0),(764,-9),(873,-4),(879.4,27),(893.5,27),
        (905.7,18),(913.7,0),(922,-18),(934,-9),(948.5,-5)]
d_vz = [(401,9),(440,12),(481,9),(521,0),(557.8,-9),(568,9),(574,35),(580,27),(589.4,-27),(596,-27),
        (604.3,-35),(614.5,-4),(744,-5),(750,-32),(758,-9),(873.3,-12),(879.4,35),(885.5,142),(890.3,181),
        (895.6,124),(901.6,0),(909.7,-9),(948.5,0)]
d_ram = [(401,0.005),(600,0.005),(610.4,0.04),(625,0.02),(642.8,0.05),(655,0.03),(670,0.005),(780,0.01),
         (800,0.01),(870,0.005),(881.4,0.06),(889.5,0.13),(895.6,0.06),(903.6,0.005),(948.5,0.005)]
d_th = [(401,0.15),(420,0.14),(440.5,0.12),(461,0.07),(481,0.05),(501,0.04),(521.4,0.04),(537.6,0.06),
        (549.7,0.10),(560,0.13),(566.7,0.16),(572,0.12),(577,0.08),(584,0.13),(590,0.20),(593,0.18),
        (596,0.22),(600,0.20),(606.4,0.13),(612.4,0.06),(620.5,0.02),(642.8,0.01),(683,0.01),(723.7,0.02),
        (735.8,0.06),(744,0.12),(750,0.16),(756,0.06),(762,0.01),(845,0.005),(873.3,0.02),(879.4,0.13),
        (885.5,0.28),(889.5,0.30),(895.6,0.21),(901.6,0.06),(909.7,0.01),(948.5,0.01)]
d_bx = [(401,7),(413,9.9),(429,11.3),(445,9.9),(461,7),(477,3.5),(493,1.2),(513,0),(533.6,-0.9),
        (545.7,-1.7),(553.8,-3.8),(562,0),(568,7.8),(573.2,12.2),(578,7),(584,-1.7),(590,-2.3),(598,-2.9),
        (604.3,-6.7),(610.4,-2.3),(620.5,-0.9),(626.6,-5.2),(634.7,-8.1),(642.8,-6.7),(655,-3.8),(671,-2.3),
        (683,0.6),(703.4,2),(723.7,2.9),(740,3.5),(748,2.9),(756,13.7),(764,9.3),(772,2.9),(784.3,-0.9),
        (804.5,-1.7),(825,-2.3),(845,-0.9),(857,-3.2),(869.3,1.2),(877.3,4.1),(883.4,0.6),(889.5,-8.1),
        (898.4,-16.9),(905.7,-12.5),(917.8,-6.7),(930,-2.3),(948.5,1.2)]
d_by = [(401,0),(590,0),(598,1.2),(606,1),(614,0),(949,0)]
d_bz = [(401,73.3),(417,70.3),(433,66),(449,62.5),(465.4,61),(481,63.1),(497,65.1),(513.3,68),(529.5,70.3),
        (541.7,71.8),(551.8,72.7),(557.8,76.2),(564,78.5),(570,73.3),(576,63.1),(584,59.3),(592.2,59.3),
        (602.3,61.6),(610.4,64.5),(618.5,70.3),(626.6,73.3),(634.7,70.3),(642.8,66.9),(650.9,67.4),
        (659,67.4),(667,66.9),(675,68),(683,68.9),(699.4,70.3),(715.6,73.3),(731.7,72.7),(744,72.7),
        (750,76.7),(756,67.4),(764,63.1),(776,63.7),(788.4,65.1),(804.5,66.9),(820.7,68.9),(837,70.9),
        (853,74.7),(861,72.7),(869,72.7),(877.3,76.7),(885.5,80.5),(893.5,78.5),(901.6,67.4),(909.7,63.1),
        (917.8,63.1),(930,64.5),(948.5,66)]
d_ex = [(401,0.31),(440,0.35),(481,0.5),(521,0.7),(540,0.75),(553.8,0.7),(562,0.5),(568,-0.27),(578,0),
        (586,-0.85),(592,-2.0),(598,-1.05),(604.3,-1.24),(609.6,-2.4),(614.5,-0.47),(621.7,1.28),(628.6,0.7),
        (642.8,0.7),(663,0.62),(683,0.7),(703.4,0.7),(715,0.9),(723.7,1.09),(731.7,1.09),(740,-0.47),
        (746,-0.27),(752,0),(758,0.5),(770,0.62),(804.5,0.62),(845,0.5),(861,0.78),(871.3,1.16),(877.3,0.31),
        (882.2,-0.85),(889.5,-0.47),(899.6,0.12),(909.7,-0.27),(917.8,0.7),(924,1.0),(934,0.7),(948.5,0.31)]
d_ey = [(401,0.31),(407,0.5),(413,1.0),(421,1.28),(429,1.16),(437,1.09),(445,1.40),(453,1.67),(461,1.55),
        (469,1.67),(477,1.40),(485,1.09),(493,0.89),(501,0.70),(509,0.89),(517.4,0.5),(525.5,0.12),
        (531.5,-0.85),(537.6,-1.82),(543.7,-2.6),(549.7,-3.57),(555.8,-3.95),(561,-3.76),(566,-2.0),(570,0.5),
        (574.8,2.44),(580,2.25),(586,1.67),(592,2.05),(598.3,3.22),(602.3,2.44),(606.4,4.19),(610.4,5.54),
        (616.5,6.12),(622.5,6.51),(628.6,8.45),(634.7,9.61),(640.7,10.0),(646.8,10.47),(652.8,10.0),
        (658.9,9.03),(665,7.67),(669,4.96),(673,2.05),(677,-0.47),(683.2,-2.4),(689.3,-3.37),(695.3,-3.76),
        (701.4,-4.34),(707.5,-3.76),(713.5,-3.57),(719.6,-2.79),(725.7,-2.21),(731.7,-1.43),(737.8,-0.08),
        (743.9,1.28),(750,3.8),(754,6.51),(760,7.29),(766,7.09),(772.2,6.51),(778.3,6.98),(784.3,7.87),
        (790.4,8.45),(796.5,9.03),(802.5,9.92),(808.6,8.64),(814.7,7.67),(818.7,5.74),(822.7,1.86),
        (828.8,-1.24),(834.9,-2.98),(841,-3.57),(847,-4.26),(851,-4.34),(857,-3.76),(863,-3.37),(869.3,-3.18),
        (875.3,-2.79),(881.4,-1.82),(885.5,-0.08),(889.5,2.25),(895.6,5.35),(900.8,6.12),(905.7,5.54),
        (911.7,4.77),(917.8,5.35),(925.9,5.74),(932,6.32),(938,7.09),(944,7.87),(948.5,7.75)]
d_ez = [(401,0),(578,0),(586,-0.27),(600,0),(750,-0.1),(800,0.05),(949,0)]

# ---------------- FIGURE ----------------
W, H = 2400, 2200
fig = plt.figure(figsize=(12, 11), dpi=200)
plt.rcParams['xtick.labelsize'] = 9.5
plt.rcParams['ytick.labelsize'] = 9.5

cols = [(145, 1185), (1353, 2392)]
rows_top = [(75, 239), (282, 445), (486, 648), (686, 849), (871, 1033)]
rows_bot = [(1187, 1350), (1394, 1556), (1597, 1759), (1797, 1960), (1981, 2144)]

panels = [
    dict(col=cols[0], rows=rows_top, title=titles[0], tx=0.25, ty=30,
         groups=[[a_n], [a_vx, a_vy, a_vz], [a_ram, a_th], [a_bx, a_by, a_bz], [a_ex, a_ey, a_ez]],
         locs=['lower left', 'lower left', 'upper right', 'upper right']),
    dict(col=cols[1], rows=rows_top, title=titles[1], tx=0.75, ty=30,
         groups=[[b_n], [b_vx, b_vy, b_vz], [b_ram, b_th], [b_bx, b_by, b_bz], [b_ex, b_ey, b_ez]],
         locs=['lower right', 'upper right', 'upper right', 'upper left']),
    dict(col=cols[0], rows=rows_bot, title=titles[2], tx=0.25, ty=1139,
         groups=[[c_n], [c_vx, c_vy, c_vz], [c_ram, c_th], [c_bx, c_by, c_bz], [c_ex, c_ey, c_ez]],
         locs=['lower left', 'upper left', 'upper right', 'upper left']),
    dict(col=cols[1], rows=rows_bot, title=titles[3], tx=0.75, ty=1139,
         groups=[[d_n], [d_vx, d_vy, d_vz], [d_ram, d_th], [d_bx, d_by, d_bz], [d_ex, d_ey, d_ez]],
         locs=['lower left', 'upper right', 'upper right', 'upper left']),
]
leg_labels = [None, v_labels, p_labels, b_labels, e_labels]

for pi, pan in enumerate(panels):
    x0, x1 = pan['col']
    axes = []
    for ri, (top, bot) in enumerate(pan['rows']):
        ax = fig.add_axes([x0 / W, 1 - bot / H, (x1 - x0) / W, (bot - top) / H],
                          sharex=axes[0] if axes else None)
        axes.append(ax)
        for k, s in enumerate(pan['groups'][ri]):
            t, y = zip(*s)
            lab = leg_labels[ri][k] if leg_labels[ri] else None
            ax.plot(t, y, color=f'C{k}', lw=1.5, label=lab)
        ax.set_ylim(*ylims[ri])
        ax.set_yticks(yticks[ri])
        ax.set_xlim(*xlim)
        ax.set_xticks(xticks)
        ax.xaxis.set_minor_locator(AutoMinorLocator())
        ax.yaxis.set_minor_locator(AutoMinorLocator())
        ax.grid(True, which='major')
        ax.set_ylabel(ylabels[ri], fontsize=14)
        if ri < 4:
            ax.tick_params(axis='x', labelbottom=False)
        if ri > 0:
            ax.legend(loc=pan['locs'][ri - 1], ncol=3, frameon=False, fontsize=12)
    fig.text(pan['tx'], 1 - pan['ty'] / H, pan['title'], ha='center', va='center', fontsize=13)
    if pi == 2:
        axn = axes[0]
        for xa, txt in zip(arrow_x, arrow_text):
            axn.annotate('', xy=(xa, 6.75), xytext=(xa, 4.05),
                         arrowprops=dict(facecolor='black', edgecolor='black', width=2,
                                         headwidth=8, headlength=9, shrink=0))
            axn.text(xa, 2.35, txt, fontsize=13, ha='left', va='center')

fig.savefig('out.png', dpi=200)
